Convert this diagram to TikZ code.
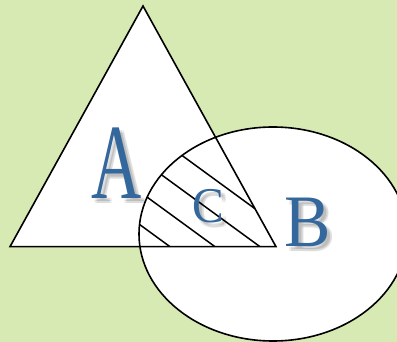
\documentclass[tikz,border=0pt]{standalone}
\usepackage{fontspec}
\setmainfont{Liberation Serif}
\definecolor{bggreen}{HTML}{D8EAB4}
\definecolor{lettblue}{HTML}{34689C}
\begin{document}
\begin{tikzpicture}[x=1pt,y=-1pt,
  outline/.style={line width=1.6pt, black, line join=miter},
  hatchline/.style={line width=1.5pt, black},
  lettA/.style={inner sep=0pt, anchor=base, font=\fontsize{107}{107}\selectfont},
  lettB/.style={inner sep=0pt, anchor=base, font=\fontsize{74}{74}\selectfont},
  lettC/.style={inner sep=0pt, anchor=base, font=\fontsize{50}{50}\selectfont},
  shade/.style={text=black, opacity=0.07}]
\fill[bggreen] (0,0) rectangle (397,342);
\useasboundingbox (0,0) rectangle (397,342);
\coordinate (T1) at (10,246.7);
\coordinate (T2) at (143,6);
\coordinate (T3) at (276,246.7);
\coordinate (E) at (273,234);
\fill[white] (T1)--(T2)--(T3)--cycle;
\fill[white] (E) ellipse [x radius=134pt, y radius=107pt];
\begin{scope}
  \clip (T1)--(T2)--(T3)--cycle;
  \clip (E) ellipse [x radius=134pt, y radius=107pt];
  \foreach \hx in {170,215,260,307}
    \draw[hatchline] (\hx,246.7) -- ++(-200,-146);
\end{scope}
\draw[outline] (T1)--(T2)--(T3)--cycle;
\draw[outline] (E) ellipse [x radius=134pt, y radius=107pt];
% soft shadows
\foreach \dx in {3,5} \foreach \dy in {3,5} {
  \node[lettA, shade] (sA\dx\dy) at (117+\dx,199+\dy) {\scalebox{0.65}[1]{A}};
  \node[lettB, shade] (sB\dx\dy) at (308+\dx,247+\dy) {\scalebox{0.94}[1]{B}};
  \node[lettC, shade] (sC\dx\dy) at (208.5+\dx,222.5+\dy) {\scalebox{0.95}[1]{C}};
}
\node[lettA, text=lettblue] (A) at (117,199) {\scalebox{0.65}[1]{A}};
\node[lettB, text=lettblue] (B) at (308,247) {\scalebox{0.94}[1]{B}};
\node[lettC, text=lettblue] (C) at (208.5,222.5) {\scalebox{0.95}[1]{C}};
\end{tikzpicture}
\end{document}
